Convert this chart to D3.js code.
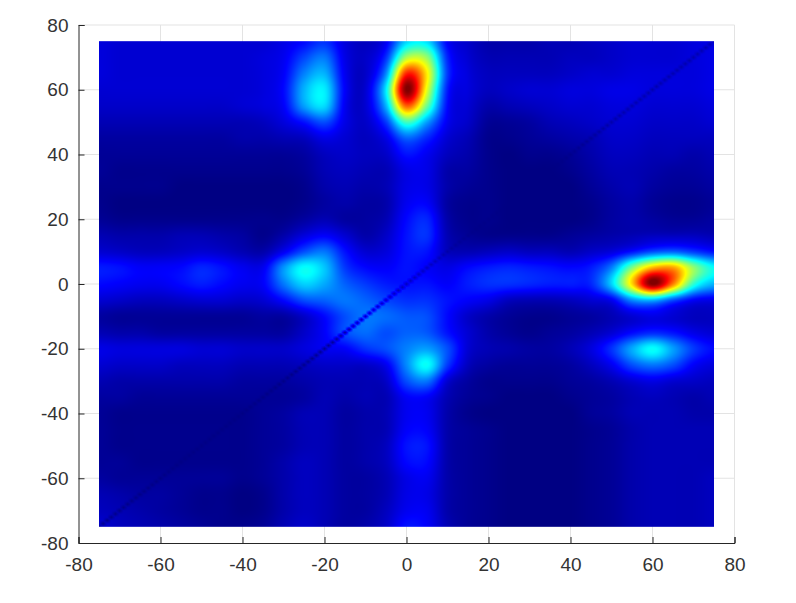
<!DOCTYPE html>
<html><head><meta charset="utf-8">
<script src="https://cdn.jsdelivr.net/npm/d3@7"></script>
<style>html,body{margin:0;padding:0;background:#fff}svg{display:block}</style>
</head><body><div id="chart"></div>
<script>
const xTicks=[-80,-60,-40,-20,0,20,40,60,80];
const yTicks=[-80,-60,-40,-20,0,20,40,60,80];
const xs=[-75,-70,-65,-60,-55,-50,-45,-40,-35,-30,-25,-20,-15,-10,-5,0,5,10,15,20,25,30,35,40,45,50,55,60,65,70,75];
const ys=[75,70,65,60,55,50,45,40,35,30,25,20,15,10,5,0,-5,-10,-15,-20,-25,-30,-35,-40,-45,-50,-55,-60,-65,-70,-75];
const field=[
[9,8,8,8,8,8,8,8,8,10,13,17,9,6,11,33,34,12,7,4,4,4,5,5,6,7,8,8,8,9,10],
[9,8,8,8,8,8,8,8,9,11,19,24,10,7,17,54,52,16,8,5,5,5,5,6,6,7,8,8,8,9,10],
[9,8,8,8,8,8,8,8,9,12,25,30,11,7,26,84,64,18,9,6,6,6,6,7,8,8,9,9,9,9,10],
[8,8,8,8,8,8,8,8,9,13,30,36,12,8,36,100,60,15,9,6,7,8,8,9,9,10,10,9,9,9,10],
[7,7,7,7,7,7,7,8,9,12,28,34,11,8,30,78,48,13,8,4,5,6,7,8,8,9,9,8,8,8,9],
[5,5,5,5,5,5,5,5,6,9,14,20,10,7,18,44,28,11,7,2,2,3,5,6,7,8,8,7,7,7,8],
[3,3,3,3,3,3,3,4,4,5,6,10,8,6,10,22,16,8,5,1,1,2,3,4,5,7,7,6,6,6,6],
[2,2,2,2,2,2,2,2,2,2,3,6,7,6,7,14,11,6,4,1,0,1,1,2,4,6,6,5,5,4,5],
[2,1,1,1,1,1,1,1,1,1,2,5,6,5,5,10,10,4,3,1,0,0,0,1,3,5,5,4,3,3,4],
[1,1,1,1,0,0,0,0,0,0,1,4,5,4,5,10,10,4,2,1,0,0,0,0,2,4,5,3,2,2,3],
[1,0,0,0,0,0,0,0,0,0,1,3,4,3,4,11,12,3,1,1,0,0,0,0,1,3,4,2,1,1,2],
[2,1,1,1,1,1,1,1,1,1,3,5,3,3,5,13,16,4,1,1,0,0,0,0,1,3,4,3,2,2,3],
[5,4,4,4,5,5,4,3,1,4,9,12,8,4,7,14,17,5,2,1,1,1,1,2,3,4,5,6,6,6,5],
[8,7,6,6,7,8,7,5,4,11,20,24,14,8,9,14,14,6,5,6,7,6,6,5,7,9,14,20,22,18,14],
[15,14,12,12,13,16,14,11,11,27,38,32,18,13,12,14,12,10,13,15,16,15,14,13,15,25,50,70,72,52,38],
[13,12,11,11,13,15,13,11,12,24,33,29,22,18,15,14,14,12,15,17,17,16,15,15,16,33,66,100,75,42,30],
[8,7,6,6,7,8,8,7,8,13,20,22,24,22,19,17,17,14,12,10,6,5,5,6,8,11,26,30,20,12,10],
[3,2,2,2,2,2,2,2,3,3,7,13,20,24,23,21,20,13,7,4,2,1,1,2,3,5,8,10,8,6,6],
[5,4,4,3,3,3,3,3,3,3,7,12,20,23,20,22,21,14,8,4,2,1,2,3,5,8,13,16,14,10,8],
[10,9,9,9,9,8,8,7,7,7,9,11,12,17,20,25,28,20,8,5,4,3,3,5,9,17,29,38,28,18,13],
[8,7,7,7,6,6,6,5,5,5,6,7,7,7,11,26,38,18,6,3,2,2,2,3,6,11,20,24,20,12,9],
[5,4,4,4,4,4,4,3,3,3,4,5,5,5,7,20,24,8,3,1,1,1,1,2,3,5,8,10,8,7,6],
[3,3,2,2,2,2,2,2,2,2,3,5,4,5,5,12,12,5,2,1,0,0,0,1,2,3,5,6,5,4,5],
[2,1,1,1,1,1,1,1,2,3,5,5,3,4,5,11,11,4,1,0,0,0,0,0,2,3,5,5,5,4,4],
[2,1,1,1,1,1,1,1,2,3,5,5,3,4,5,12,12,4,2,1,0,0,0,0,1,2,4,5,5,5,5],
[2,1,1,1,1,1,1,1,2,3,5,5,3,4,6,14,14,4,2,1,0,0,0,0,1,2,4,5,5,5,5],
[2,2,1,1,1,1,1,1,2,4,6,5,3,4,6,13,13,4,2,1,0,0,0,0,1,2,4,5,5,5,5],
[3,2,2,2,2,2,2,1,2,4,6,5,3,3,5,10,11,4,2,1,0,0,0,0,1,2,4,5,5,5,6],
[5,4,3,3,2,1,1,0,1,4,6,5,3,3,5,10,10,4,2,1,0,0,0,0,1,2,4,5,5,5,6],
[6,5,4,3,2,1,1,0,1,4,6,5,3,3,6,11,11,4,2,1,0,0,0,0,1,2,4,5,5,5,6],
[8,6,5,4,3,2,1,1,2,5,7,5,3,4,7,14,12,5,2,1,0,0,0,0,1,2,4,5,5,5,6]
];
const diagonalAt=[-75,-45,-15,0,10,35,50,75];
const diagonalKeep=[.1,.1,.1,.4,.6,.4,.45,.45];
const jetStops=[0,.125,.375,.625,.875,1];
const jetColors=["#000083","#0000ff","#00ffff","#ffff00","#ff0000","#800000"];

const W=796,H=603;
const x=d3.scaleLinear().domain([-80,80]).range([78.5,734.5]);
const y=d3.scaleLinear().domain([-80,80]).range([543,25]);
const color=d3.scaleLinear().domain(jetStops).range(jetColors).clamp(true);
const keep=d3.scaleLinear().domain(diagonalAt).range(diagonalKeep);

function cr(a,b,c,d,t){return b+.5*t*(c-a+t*(2*a-5*b+4*c-d+t*(3*(b-c)+d-a)));}
function sample(dx,dy){
  const fc=(dx-xs[0])/(xs[1]-xs[0]), fr=(ys[0]-dy)/(ys[0]-ys[1]);
  const c=Math.min(Math.floor(fc),xs.length-2), r=Math.min(Math.floor(fr),ys.length-2);
  const tc=fc-c,tr=fr-r,row=[];
  for(let i=-1;i<=2;i++){
    const R=field[Math.max(0,Math.min(ys.length-1,r+i))];
    const g=j=>R[Math.max(0,Math.min(xs.length-1,j))];
    row.push(cr(g(c-1),g(c),g(c+1),g(c+2),tc));
  }
  let v=cr(row[0],row[1],row[2],row[3],tr)/100;
  v=Math.max(0,v);
  // the zero-lag diagonal, one cell per degree
  const k0=Math.floor(dx),k1=k0+1;
  let m=1;
  for(const k of [k0,k1,Math.floor(dy),Math.ceil(dy)]){
    const w=Math.max(0,1-Math.abs(dx-k))*Math.max(0,1-Math.abs(dy-k));
    if(w>0)m=Math.min(m,1-(1-keep(k))*w);
  }
  return v*m;
}

const svg=d3.select("#chart").append("svg").attr("width",W).attr("height",H).attr("viewBox",[0,0,W,H]);
const gridCol="#e3e3e3",ink="#333333";
const g=svg.append("g").attr("fill","none").attr("stroke",gridCol).attr("stroke-width",1);
g.selectAll(".gx").data(xTicks.slice(1)).join("line").attr("x1",d=>x(d)).attr("x2",d=>x(d)).attr("y1",y(-80)).attr("y2",y(80));
g.selectAll(".gy").data(yTicks.slice(1)).join("line").attr("x1",x(-80)).attr("x2",x(80)).attr("y1",d=>y(d)).attr("y2",d=>y(d));

const x0=x(-75),x1=x(75),y0=y(75),y1=y(-75);
const pw=Math.round(x1-x0),ph=Math.round(y1-y0);
const cv=document.createElement("canvas");cv.width=pw;cv.height=ph;
const ctx=cv.getContext("2d"),img=ctx.createImageData(pw,ph);
for(let j=0;j<ph;j++)for(let i=0;i<pw;i++){
  const dx=x.invert(x0+(i+.5)*(x1-x0)/pw),dy=y.invert(y0+(j+.5)*(y1-y0)/ph);
  const c=d3.rgb(color(sample(dx,dy))),o=(j*pw+i)*4;
  img.data[o]=c.r;img.data[o+1]=c.g;img.data[o+2]=c.b;img.data[o+3]=255;
}
ctx.putImageData(img,0,0);
svg.append("image").attr("x",x0).attr("y",y0).attr("width",x1-x0).attr("height",y1-y0)
  .attr("preserveAspectRatio","none").attr("href",cv.toDataURL());

const axX=svg.append("g").attr("transform",`translate(0,${y(-80)})`)
  .call(d3.axisBottom(x).tickValues(xTicks).tickFormat(d3.format("d")).tickSize(-6).tickPadding(15));
const axY=svg.append("g").attr("transform",`translate(${x(-80)},0)`)
  .call(d3.axisLeft(y).tickValues(yTicks).tickFormat(d3.format("d")).tickSize(-6).tickPadding(10));
for(const a of [axX,axY]){
  a.selectAll("path,line").attr("stroke","#262626").attr("stroke-width",1);
  a.selectAll("text").attr("fill",ink).attr("font-family","'Liberation Sans',Arial,sans-serif").attr("font-size",19)
   .text(function(){return this.textContent.replace("\u2212","-");});
}
</script></body></html>
